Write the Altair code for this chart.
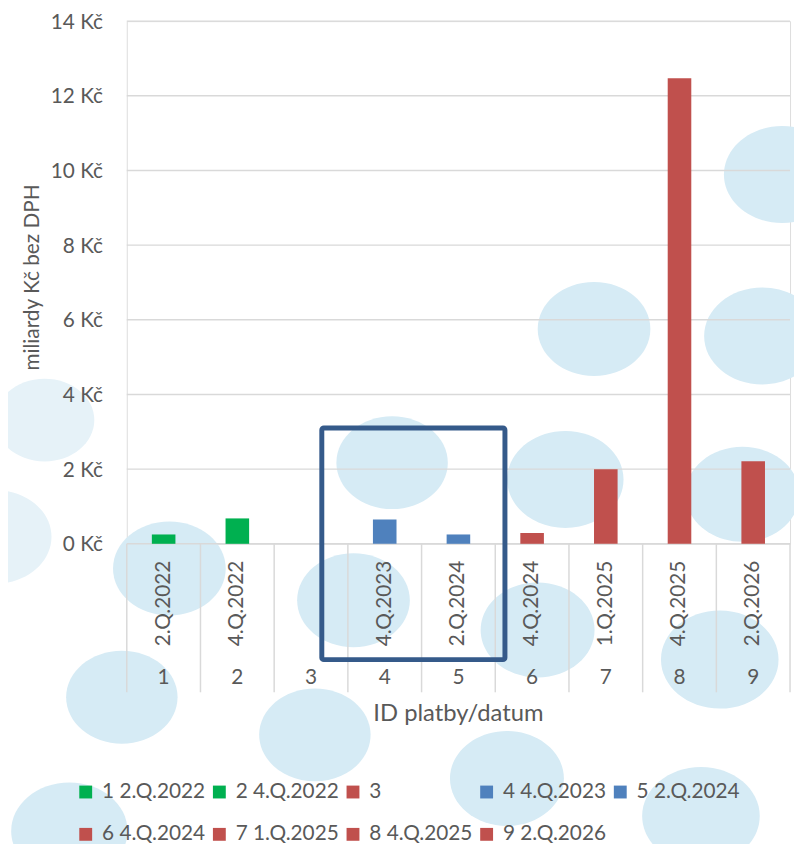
import altair as alt
import pandas as pd

# ---- data ----
ids = ["1", "2", "3", "4", "5", "6", "7", "8", "9"]
dates = ["2.Q.2022", "4.Q.2022", "", "4.Q.2023", "2.Q.2024", "4.Q.2024", "1.Q.2025", "4.Q.2025", "2.Q.2026"]
values = [0.25, 0.68, 0.0, 0.65, 0.25, 0.29, 2.00, 12.47, 2.21]
legend_labels = ["1 2.Q.2022", "2 4.Q.2022", "3", "4 4.Q.2023", "5 2.Q.2024",
                 "6 4.Q.2024", "7 1.Q.2025", "8 4.Q.2025", "9 2.Q.2026"]
bar_colors = ["#00b050", "#00b050", "#c0504d", "#4f81bd", "#4f81bd",
              "#c0504d", "#c0504d", "#c0504d", "#c0504d"]
y_ticks = [0, 2, 4, 6, 8, 10, 12, 14]
x_title = "ID platby/datum"
y_title = "miliardy Kč bez DPH"

# decorative background bubbles (plot-pixel positions)
bubble_x = [472, 662, 642, 622, 268, 443, 415, 599, 229, 43, -5, 190, 384, 580, -58, -83, -133]
bubble_y = [311, 155, 318, 478, 446, 463, 615, 645, 585, 553, 683, 721, 765, 803, 818, 403, 521]
bubble_size = [9000, 9600, 9600, 9200, 8800, 9600, 9200, 9800, 9000, 9000, 8800, 8800, 9200, 9800, 9600, 7000, 9000]
bubble_color = ["#d6ebf5"] * 15 + ["#e6f2f8", "#e6f2f8"]

W, H = 670, 528
FONT = "Lato"
GREY = "#595959"
FS = 21

df = pd.DataFrame({"id": ids, "date": dates, "value": values, "label": legend_labels})
grid_df = pd.DataFrame({"t": y_ticks})
one_df = pd.DataFrame({"a": [0]})

ellipse = "M -1.2 0 A 1.2 1 0 1 0 1.2 0 A 1.2 1 0 1 0 -1.2 0 Z"

bubble_layers = [
    alt.Chart(one_df).mark_point(shape=ellipse, filled=True, color=c, opacity=1, size=s).encode(
        x=alt.value(bx), y=alt.value(by))
    for bx, by, s, c in zip(bubble_x, bubble_y, bubble_size, bubble_color)
]

yscale = alt.Scale(domain=[0, 14], nice=False, zero=True)
xscale = alt.Scale(paddingInner=0, paddingOuter=0)
X = lambda **kw: alt.X("id:O", sort=ids, scale=xscale, axis=None, **kw)

grid = alt.Chart(grid_df).mark_rule(color="#d9d9d9", strokeWidth=1.5).encode(
    y=alt.Y("t:Q", scale=yscale, axis=None),
)

ylabels = alt.Chart(grid_df).transform_calculate(lab="datum.t + ' Kč'").mark_text(
    align="right", baseline="middle", fontSize=FS, color=GREY, font=FONT, dy=1.5).encode(
    x=alt.value(-24),
    y=alt.Y("t:Q", scale=yscale, axis=None),
    text="lab:N",
)

dividers = alt.Chart(df).mark_rule(color="#d9d9d9", strokeWidth=1.5).encode(
    x=X(bandPosition=0), y=alt.value(H), y2=alt.value(H + 150),
)
last_div = alt.Chart(df).transform_filter(alt.datum.id == "9").mark_rule(color="#d9d9d9", strokeWidth=1.5).encode(
    x=X(bandPosition=1), y=alt.value(H), y2=alt.value(H + 150),
)

bars = alt.Chart(df).mark_bar(width=alt.RelativeBandSize(0.32)).encode(
    x=X(),
    y=alt.Y("value:Q", scale=yscale, axis=None),
    color=alt.Color("label:N", sort=legend_labels,
                    scale=alt.Scale(domain=legend_labels, range=bar_colors),
                    legend=alt.Legend(orient="none", direction="horizontal", legendX=-52, legendY=768,
                                      columns=5, gridAlign="all",
                                      symbolType="square", symbolSize=169, symbolStrokeWidth=0,
                                      labelFontSize=FS, labelColor=GREY, labelFont=FONT, labelOffset=6,
                                      columnPadding=3, rowPadding=21, title=None, padding=0, labelLimit=300)),
)

date_text = alt.Chart(df).mark_text(angle=270, align="right", baseline="middle", fontSize=FS,
                                    color=GREY, font=FONT).encode(
    x=X(), y=alt.value(545), text="date:N",
)

id_text = alt.Chart(df).mark_text(baseline="middle", fontSize=FS, color=GREY, font=FONT).encode(
    x=X(), y=alt.value(664), text="id:N",
)

xtitle = alt.Chart(one_df).mark_text(baseline="middle", fontSize=24, color=GREY, font=FONT,
                                     text=x_title).encode(
    x=alt.value(W / 2), y=alt.value(700),
)
ytitle = alt.Chart(one_df).mark_text(baseline="middle", angle=270, fontSize=FS, color=GREY, font=FONT,
                                     text=y_title).encode(
    x=alt.value(-95), y=alt.value(259),
)

box = alt.Chart(one_df).mark_rect(fillOpacity=0, stroke="#355a8a", strokeWidth=5, cornerRadius=2).encode(
    x=alt.value(197), x2=alt.value(382), y=alt.value(411), y2=alt.value(645),
)

chart = alt.layer(*bubble_layers, grid, dividers, last_div, bars, date_text, id_text, ylabels,
                  xtitle, ytitle, box).properties(
    width=W, height=H,
    padding={"left": 120, "top": 9, "right": 4, "bottom": 299},
    autosize=alt.AutoSizeParams(type="none"),
    background="white",
).configure_view(stroke=None).configure(font=FONT)

chart.save("out.html", embed_options={"renderer": "svg", "actions": False})
